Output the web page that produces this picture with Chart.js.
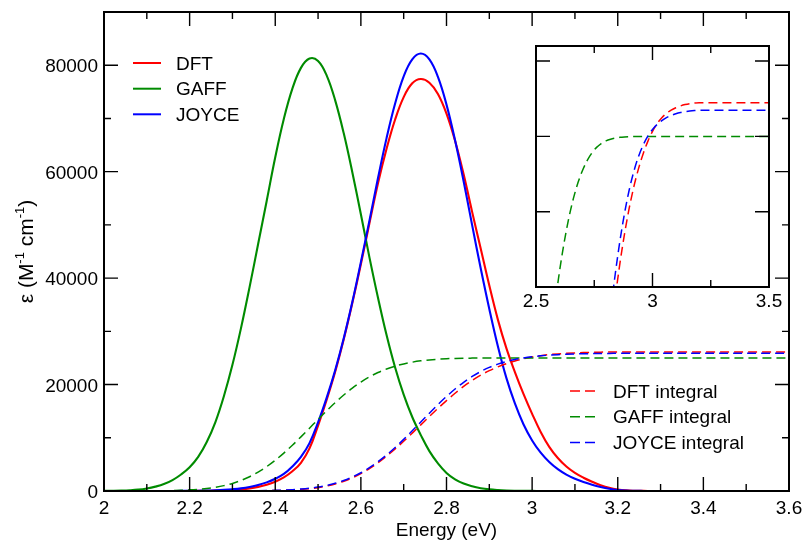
<!DOCTYPE html>
<html>
<head>
<meta charset="utf-8">
<script src="https://cdn.jsdelivr.net/npm/chart.js@4.4.1/dist/chart.umd.min.js"></script>
<style>
  html, body { margin: 0; padding: 0; background: #fff; }
  #wrap { position: relative; width: 804px; height: 544px; }
  #wrap canvas { position: absolute; left: 0; top: 0; }
</style>
</head>
<body>
<div id="wrap">
  <canvas id="main" width="804" height="544"></canvas>
  <canvas id="inset" width="804" height="544"></canvas>
</div>
<script>
// Energy grid (eV)
const energy = [2.00,2.02,2.04,2.06,2.08,2.10,2.12,2.14,2.16,2.18,2.20,2.22,2.24,2.26,2.28,2.30,2.32,2.34,2.36,2.38,
  2.40,2.42,2.44,2.46,2.48,2.50,2.52,2.54,2.56,2.58,2.60,2.62,2.64,2.66,2.68,2.70,2.72,2.74,2.76,2.78,
  2.80,2.82,2.84,2.86,2.88,2.90,2.92,2.94,2.96,2.98,3.00,3.02,3.04,3.06,3.08,3.10,3.12,3.14,3.16,3.18,
  3.20,3.22,3.24,3.26,3.28,3.30,3.32,3.34,3.36,3.38,3.40,3.42,3.44,3.46,3.48,3.50,3.52,3.54,3.56,3.58,3.60];

// spectra, epsilon (M^-1 cm^-1)
const dftSpec = [0,0,0,0,0,0,1,2,4,8,15,25,45,75,125,200,320,500,780,1180,
  1750,2550,3700,5300,8000,12300,17100,22400,28500,35300,42600,50300,57800,64300,69800,74000,76600,77400,76700,74600,
  70900,65800,59500,52400,45500,38600,32200,26800,22300,18200,14500,11100,8300,6200,4600,3400,2500,1750,1100,600,
  280,110,45,18,6,0,0,0,0,0,0,0,0,0,0,0,0,0,0,0,0];
const gaffSpec = [20,40,75,140,260,480,820,1300,2050,3100,4450,6400,9200,12900,17800,23700,30600,38300,46400,54500,
  62700,69900,75600,79500,81250,80800,78100,73400,67200,59900,52000,43900,36300,29300,23200,18100,13900,10500,7500,5200,
  3400,2200,1400,880,530,310,180,100,55,30,15,0,0,0,0,0,0,0,0,0,
  0,0,0,0,0,0,0,0,0,0,0,0,0,0,0,0,0,0,0,0,0];
const joyceSpec = [0,0,0,0,0,1,3,5,9,16,28,48,80,130,210,330,500,760,1120,1620,
  2300,3200,4600,6400,9000,12900,17500,22700,28700,35500,43000,50800,58800,66300,72800,77900,81100,82200,81100,77800,
  72600,65900,58200,49900,41800,34200,27200,21200,16400,12500,9500,7200,5450,4100,3080,2300,1680,1170,750,420,
  200,85,30,12,4,0,0,0,0,0,0,0,0,0,0,0,0,0,0,0,0];

// integrals
const dftInt = [0,0,0,0,0,0,0,0,0,0,1,1,2,3,5,8,13,22,35,54,
  84,127,191,282,417,622,920,1319,1834,2480,3268,4208,5301,6537,7893,9348,10872,12430,13989,15519,
  16991,18374,19642,20774,21765,22615,23332,23929,24425,24835,25166,25425,25620,25764,25870,25950,26010,26055,26087,26106,
  26115,26118,26120,26120,26120,26120,26120,26120,26120,26120,26120,26120,26120,26120,26120,26120,26120,26120,26120,26120,26120];
const gaffInt = [0,1,2,4,8,16,29,50,84,137,213,324,482,705,1012,1425,1974,2681,3548,4579,
  5772,7120,8598,10175,11808,13455,15070,16610,18039,19331,20468,21443,22258,22924,23458,23877,24203,24451,24634,24763,
  24850,24907,24944,24967,24981,24990,24995,24998,25000,25000,25000,25000,25000,25000,25000,25000,25000,25000,25000,25000,
  25000,25000,25000,25000,25000,25000,25000,25000,25000,25000,25000,25000,25000,25000,25000,25000,25000,25000,25000,25000,25000];
const joyceInt = [0,0,0,0,0,0,0,0,0,1,1,2,3,5,9,14,23,35,54,82,
  122,177,257,368,524,746,1055,1462,1983,2634,3430,4382,5493,6761,8172,9700,11312,12968,14624,16235,
  17760,19165,20423,21519,22449,23220,23842,24333,24714,25007,25229,25398,25525,25622,25695,25750,25792,25822,25843,25856,
  25862,25866,25868,25870,25870,25870,25870,25870,25870,25870,25870,25870,25870,25870,25870,25870,25870,25870,25870,25870,25870];

// ticks
const xTicks = [2, 2.2, 2.4, 2.6, 2.8, 3, 3.2, 3.4, 3.6];
const xTickLabels = ['2', '2.2', '2.4', '2.6', '2.8', '3', '3.2', '3.4', '3.6'];
const xMinorTicks = [2.1, 2.3, 2.5, 2.7, 2.9, 3.1, 3.3, 3.5];
const yTicks = [0, 20000, 40000, 60000, 80000];
const yTickLabels = ['0', '20000', '40000', '60000', '80000'];
const yMinorTicks = [10000, 30000, 50000, 70000];
const insetXTicks = [2.5, 3, 3.5];
const insetXTickLabels = ['2.5', '3', '3.5'];
const insetXMinorTicks = [2.75, 3.25];
const insetYTicks = [22500, 25000, 27500];

const RED = '#ff0000', GREEN = '#008b00', BLUE = '#0000ff';
const FONT = '"Liberation Sans", Arial, Helvetica, sans-serif';

function pts(vals) {
  return energy.map((e, i) => ({ x: e, y: vals[i] }));
}

function line(label, vals, color, dashed, order) {
  return {
    label: label,
    data: pts(vals),
    borderColor: color,
    borderWidth: dashed ? 1.5 : 2.1,
    borderDash: dashed ? [9, 5] : [],
    pointRadius: 0,
    // integrals are monotone, spectra get a plain bezier
    cubicInterpolationMode: dashed ? 'monotone' : 'default',
    tension: dashed ? 0 : 0.4,
    fill: false,
    order: order
  };
}

// box, inward ticks and tick labels
function axesPlugin(cfg) {
  return {
    id: 'axesBox',
    afterDatasetsDraw(chart) {
      const ctx = chart.ctx;
      const a = chart.chartArea;
      const x = chart.scales.x, y = chart.scales.y;
      ctx.save();
      ctx.strokeStyle = '#000';
      ctx.lineWidth = 1.4;
      ctx.beginPath();
      const xt = (list, len) => list.forEach(v => {
        const p = x.getPixelForValue(v);
        ctx.moveTo(p, a.bottom); ctx.lineTo(p, a.bottom - len);
        ctx.moveTo(p, a.top); ctx.lineTo(p, a.top + len);
      });
      const yt = (list, len) => list.forEach(v => {
        const p = y.getPixelForValue(v);
        ctx.moveTo(a.left, p); ctx.lineTo(a.left + len, p);
        ctx.moveTo(a.right, p); ctx.lineTo(a.right - len, p);
      });
      xt(cfg.xTicks, 14);
      xt(cfg.xMinor, 7);
      yt(cfg.yTicks, 14);
      yt(cfg.yMinor, 7);
      ctx.stroke();

      ctx.lineWidth = 2;
      ctx.strokeRect(a.left, a.top, a.right - a.left, a.bottom - a.top);

      ctx.fillStyle = '#000';
      ctx.font = '19px ' + FONT;
      ctx.textAlign = 'center';
      ctx.textBaseline = 'alphabetic';
      cfg.xTicks.forEach((v, i) => {
        ctx.fillText(cfg.xLabels[i], x.getPixelForValue(v), a.bottom + cfg.xLabelGap);
      });
      if (cfg.yLabels) {
        ctx.textAlign = 'right';
        cfg.yTicks.forEach((v, i) => {
          ctx.fillText(cfg.yLabels[i], a.left - 6, y.getPixelForValue(v) + 7);
        });
      }
      ctx.restore();
    }
  };
}

// titles and legends of the main plot
const decorPlugin = {
  id: 'decor',
  afterDraw(chart) {
    const ctx = chart.ctx;
    const a = chart.chartArea;
    ctx.save();
    ctx.fillStyle = '#000';
    ctx.font = '19px ' + FONT;
    ctx.textAlign = 'center';
    ctx.textBaseline = 'alphabetic';
    ctx.fillText('Energy (eV)', (a.left + a.right) / 2, 536);

    // y title with superscripts
    const parts = [['\u03b5 (M', 21, 0], ['-1', 13, -9], [' cm', 21, 0], ['-1', 13, -9], [')', 21, 0]];
    let total = 0;
    parts.forEach(p => { ctx.font = p[1] + 'px ' + FONT; total += ctx.measureText(p[0]).width; });
    ctx.translate(33, (a.top + a.bottom) / 2);
    ctx.rotate(-Math.PI / 2);
    ctx.textAlign = 'left';
    let cx = -total / 2;
    parts.forEach(p => {
      ctx.font = p[1] + 'px ' + FONT;
      ctx.fillText(p[0], cx, p[2]);
      cx += ctx.measureText(p[0]).width;
    });
    ctx.restore();

    // legends
    ctx.save();
    ctx.font = '19px ' + FONT;
    ctx.fillStyle = '#000';
    ctx.textBaseline = 'alphabetic';
    ctx.textAlign = 'left';
    const ds = chart.data.datasets;
    const rows1 = [63, 88.7, 114.3], rows2 = [391, 416.7, 442.4];
    ds.forEach((d, i) => {
      const dashed = i >= 3;
      const yy = dashed ? rows2[i - 3] : rows1[i % 3];
      const x0 = dashed ? 570 : 133, x1 = dashed ? 595 : 161, tx = dashed ? 613 : 176;
      ctx.strokeStyle = d.borderColor;
      ctx.lineWidth = dashed ? 1.5 : 2;
      ctx.setLineDash(dashed ? [10, 5] : []);
      ctx.beginPath();
      ctx.moveTo(x0, yy); ctx.lineTo(x1, yy);
      ctx.stroke();
      ctx.fillText(d.label, tx, yy + 6.5);
    });
    ctx.restore();
  }
};

const baseOptions = (pad, xr, yr) => ({
  responsive: false,
  animation: false,
  devicePixelRatio: 1,
  layout: { padding: pad },
  plugins: { legend: { display: false }, tooltip: { enabled: false } },
  scales: {
    x: { type: 'linear', min: xr[0], max: xr[1], display: false },
    y: { type: 'linear', min: yr[0], max: yr[1], display: false }
  }
});

new Chart(document.getElementById('main'), {
  type: 'line',
  data: {
    datasets: [
      line('DFT', dftSpec, RED, false, 6),
      line('GAFF', gaffSpec, GREEN, false, 5),
      line('JOYCE', joyceSpec, BLUE, false, 4),
      line('DFT integral', dftInt, RED, true, 3),
      line('GAFF integral', gaffInt, GREEN, true, 2),
      line('JOYCE integral', joyceInt, BLUE, true, 1)
    ]
  },
  options: baseOptions({ left: 104, right: 15, top: 12, bottom: 53 }, [2, 3.6], [0, 90000]),
  plugins: [axesPlugin({
    xTicks: xTicks, xLabels: xTickLabels, xMinor: xMinorTicks,
    yTicks: yTicks, yLabels: yTickLabels, yMinor: yMinorTicks, xLabelGap: 23
  }), decorPlugin]
});

// inset: zoom on the integrals
new Chart(document.getElementById('inset'), {
  type: 'line',
  data: {
    datasets: [
      line('DFT integral', dftInt, RED, true, 3),
      line('GAFF integral', gaffInt, GREEN, true, 2),
      line('JOYCE integral', joyceInt, BLUE, true, 1)
    ]
  },
  options: baseOptions({ left: 536, right: 35, top: 46, bottom: 257 }, [2.5, 3.5], [20000, 28000]),
  plugins: [axesPlugin({
    xTicks: insetXTicks, xLabels: insetXTickLabels, xMinor: insetXMinorTicks,
    yTicks: insetYTicks, yLabels: null, yMinor: [], xLabelGap: 20
  })]
});
</script>
</body>
</html>
